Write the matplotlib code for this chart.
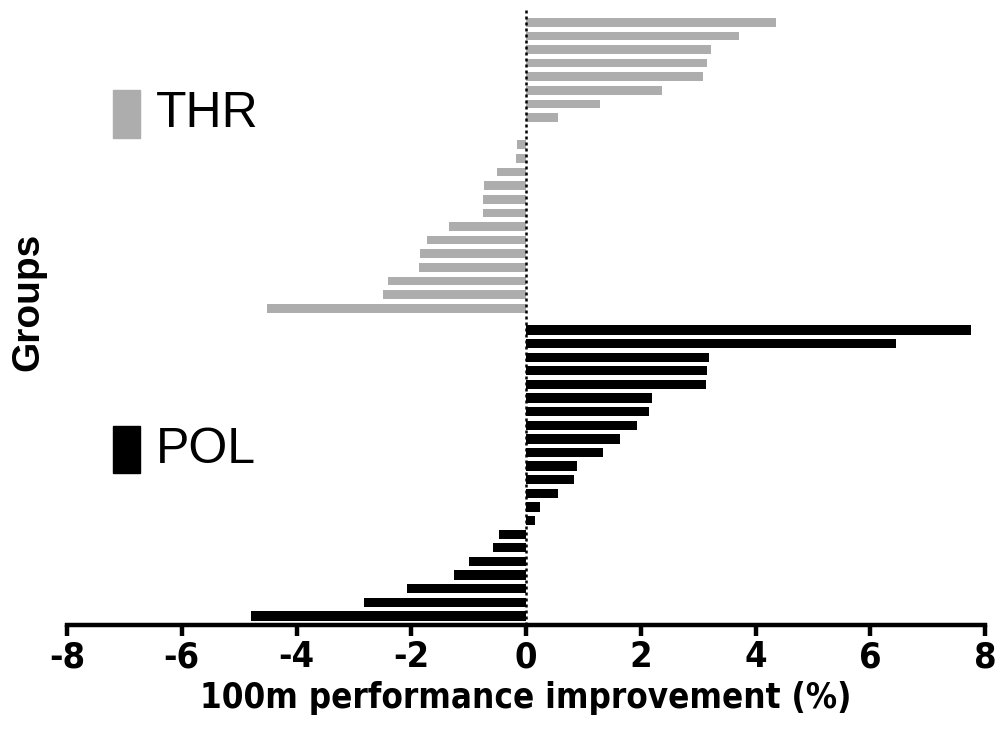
import numpy as np
import matplotlib
matplotlib.use("Agg")
import matplotlib.pyplot as plt
from matplotlib.patches import Rectangle

# Values, top to bottom within each group
thr_values = [4.36, 3.71, 3.22, 3.16, 3.08, 2.37, 1.29, 0.56, 0.0,
              -0.15, -0.17, -0.51, -0.73, -0.75, -0.75, -1.34, -1.73,
              -1.85, -1.86, -2.40, -2.50, -4.52]
pol_values = [7.75, 6.45, 3.19, 3.16, 3.13, 2.19, 2.14, 1.93, 1.63, 1.35,
              0.89, 0.83, 0.56, 0.24, 0.16, -0.47, -0.57, -0.99, -1.25,
              -2.08, -2.82, -4.79]
group_names = ["THR", "POL"]
group_colors = ["#adadad", "#000000"]
x_ticks = [-8, -6, -4, -2, 0, 2, 4, 6, 8]

plain = ["Liberation Sans", "DejaVu Sans"]

fig = plt.figure(figsize=(10.01, 7.36), dpi=100)
ax = fig.add_axes([0.067, 0.151, 0.917, 0.835])

# slot positions; small extra gap between the two groups
gap = 0.6
y_thr = np.arange(len(thr_values))
y_pol = np.arange(len(pol_values)) + len(thr_values) + gap

ax.barh(y_thr, thr_values, height=0.64, color=group_colors[0], zorder=2)
ax.barh(y_pol, pol_values, height=0.68, color=group_colors[1], zorder=2)

ax.axvline(0, color="black", linestyle=(0, (1.2, 1.2)), linewidth=1.8, zorder=3)

ax.set_xlim(-8, 8)
ax.set_ylim(y_pol[-1] + 0.66, -0.88)
ax.set_xticks(x_ticks)
ax.set_xticklabels([str(t) for t in x_ticks], family="DejaVu Sans",
                   fontstretch="condensed", fontweight="bold", fontsize=26)
ax.set_yticks([])

for side in ["left", "right", "top"]:
    ax.spines[side].set_visible(False)
ax.spines["bottom"].set_linewidth(3.2)
ax.tick_params(axis="x", direction="out", length=8, width=3.2, pad=3)

ax.set_xlabel("100m performance improvement (%)", family="DejaVu Sans",
              fontstretch="condensed", fontweight="bold", fontsize=25,
              labelpad=5)
ax.set_ylabel("Groups", family=plain, fontweight="bold", fontsize=28)
ax.yaxis.set_label_coords(-0.022, 0.525)

# group key on the left
key_y = [114, 450]
for name, col, yc in zip(group_names, group_colors, key_y):
    fig.patches.append(Rectangle((113 / 1001, 1 - (yc + 23.5) / 736),
                                 27 / 1001, 47 / 736, color=col,
                                 transform=fig.transFigure))
    fig.text(156 / 1001, 1 - yc / 736, name, family=plain, fontsize=36,
             va="center", ha="left")

fig.savefig("out.png", dpi=100)
